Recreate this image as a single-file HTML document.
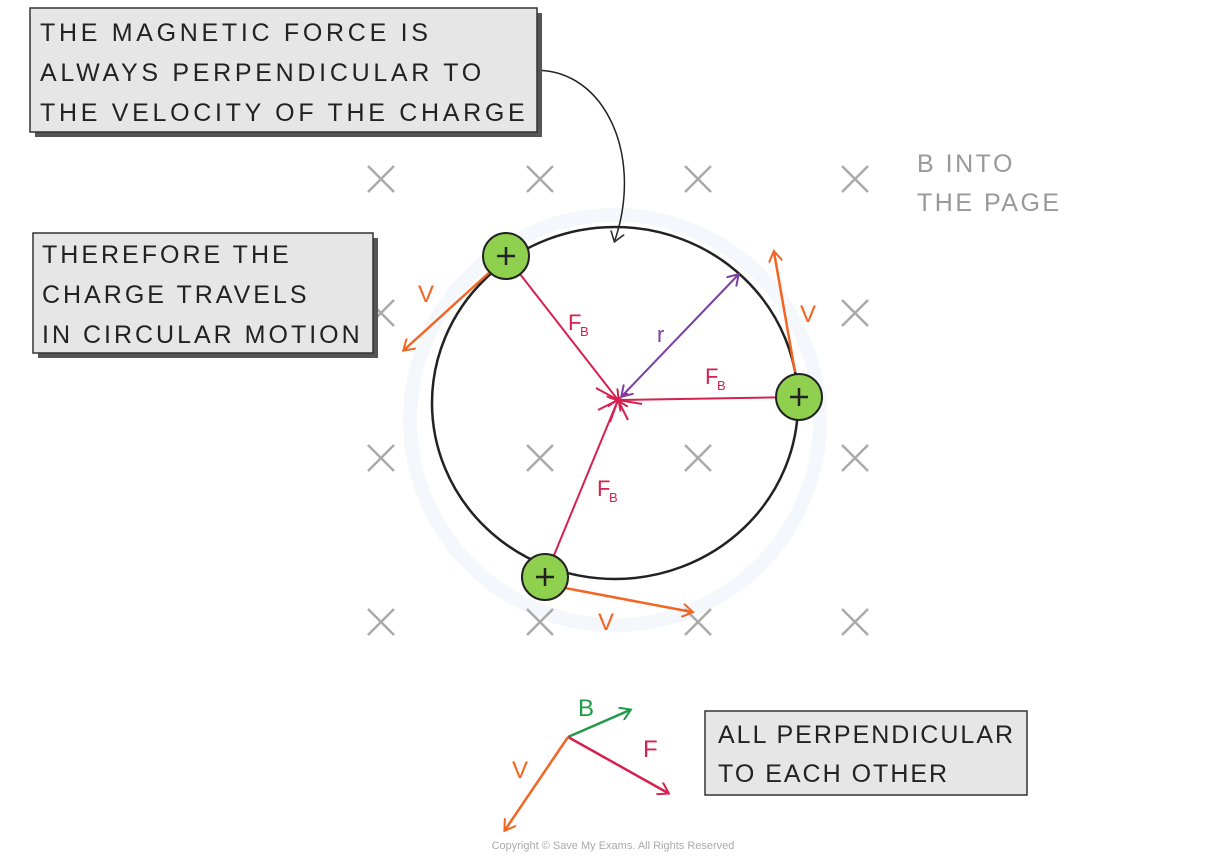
<!DOCTYPE html>
<html><head><meta charset="utf-8"><style>
html,body{margin:0;padding:0;background:#fff;}
body{width:1226px;height:859px;position:relative;overflow:hidden;font-family:"Liberation Sans",sans-serif;}
svg{position:absolute;left:0;top:0;}
</style></head><body>
<svg width="1226" height="859" viewBox="0 0 1226 859">
<defs>
<marker id="ao" markerWidth="14" markerHeight="14" refX="10" refY="7" orient="auto" markerUnits="userSpaceOnUse"><path d="M0,0 L11,7 L0,14" fill="none" stroke="#f26522" stroke-width="2"/></marker>
<marker id="ar" markerWidth="14" markerHeight="14" refX="10" refY="7" orient="auto" markerUnits="userSpaceOnUse"><path d="M0,0 L11,7 L0,14" fill="none" stroke="#d6204f" stroke-width="2"/></marker>
<marker id="ag" markerWidth="14" markerHeight="14" refX="10" refY="7" orient="auto" markerUnits="userSpaceOnUse"><path d="M0,0 L11,7 L0,14" fill="none" stroke="#1f9a48" stroke-width="2"/></marker>
<marker id="ap" markerWidth="14" markerHeight="14" refX="10" refY="7" orient="auto-start-reverse" markerUnits="userSpaceOnUse"><path d="M0,0 L11,7 L0,14" fill="none" stroke="#7a3fa0" stroke-width="2"/></marker>
<marker id="ak" markerWidth="16" markerHeight="16" refX="8" refY="8" orient="auto" markerUnits="userSpaceOnUse"><path d="M0,1 L10,8 L0,15" fill="none" stroke="#222" stroke-width="1.5"/></marker>
</defs>
<circle cx="615" cy="420" r="205" fill="none" stroke="#f4f7fb" stroke-width="14"/>
<g stroke="#aaa" stroke-width="2.5" fill="none">
<path d="M368,166 l26,26 M394,166 l-26,26"/>
<path d="M527,166 l26,26 M553,166 l-26,26"/>
<path d="M685,166 l26,26 M711,166 l-26,26"/>
<path d="M842,166 l26,26 M868,166 l-26,26"/>
<path d="M368,300 l26,26 M394,300 l-26,26"/>
<path d="M842,300 l26,26 M868,300 l-26,26"/>
<path d="M368,445 l26,26 M394,445 l-26,26"/>
<path d="M527,445 l26,26 M553,445 l-26,26"/>
<path d="M685,445 l26,26 M711,445 l-26,26"/>
<path d="M842,445 l26,26 M868,445 l-26,26"/>
<path d="M368,609 l26,26 M394,609 l-26,26"/>
<path d="M527,609 l26,26 M553,609 l-26,26"/>
<path d="M685,609 l26,26 M711,609 l-26,26"/>
<path d="M842,609 l26,26 M868,609 l-26,26"/>
</g>
<text x="917" y="172" font-size="25" fill="#999" letter-spacing="2.5">B INTO</text>
<text x="917" y="211" font-size="25" fill="#999" letter-spacing="2.5">THE  PAGE</text>
<ellipse cx="615" cy="403" rx="183" ry="176" fill="none" stroke="#222" stroke-width="2.5"/>
<g stroke="#d6204f" stroke-width="2" fill="none">
<line x1="506" y1="256" x2="618" y2="400" marker-end="url(#ar)"/>
<line x1="799" y1="397" x2="618" y2="400" marker-end="url(#ar)"/>
<line x1="545" y1="577" x2="618" y2="400" marker-end="url(#ar)"/>
<path d="M618,400 l-22,-12 M618,400 l-20,10 M618,400 l-8,22 M618,400 l10,20 M618,400 l24,4"/>
</g>
<line x1="622" y1="396" x2="738" y2="275" stroke="#7a3fa0" stroke-width="2" marker-start="url(#ap)" marker-end="url(#ap)"/>
<g fill="#d6204f" font-size="22">
<text x="568" y="330">F</text><text x="580" y="336" font-size="13">B</text>
<text x="705" y="384">F</text><text x="717" y="390" font-size="13">B</text>
<text x="597" y="496">F</text><text x="609" y="502" font-size="13">B</text>
</g>
<text x="657" y="342" fill="#7a3fa0" font-size="22">r</text>
<g stroke="#f26522" stroke-width="2.5" fill="none">
<line x1="492" y1="270" x2="404" y2="350" marker-end="url(#ao)"/>
<line x1="795" y1="372" x2="774" y2="252" marker-end="url(#ao)"/>
<line x1="565" y1="588" x2="692" y2="612" marker-end="url(#ao)"/>
</g>
<g fill="#f26522" font-size="24">
<text x="418" y="302">V</text>
<text x="800" y="322">V</text>
<text x="598" y="630">V</text>
</g>
<g fill="#8fd14f" stroke="#222" stroke-width="2">
<circle cx="506" cy="256" r="23"/><circle cx="799" cy="397" r="23"/><circle cx="545" cy="577" r="23"/>
</g>
<g stroke="#222" stroke-width="2.5">
<path d="M497,256 h18 M506,247 v18"/><path d="M790,397 h18 M799,388 v18"/><path d="M536,577 h18 M545,568 v18"/>
</g>
<path d="M527,71 C600,62 645,150 615,240" fill="none" stroke="#222" stroke-width="1.5" marker-end="url(#ak)"/>
<circle cx="527" cy="71" r="3" fill="#fff" stroke="#222" stroke-width="1.5"/>
<rect x="35" y="13" width="507" height="124" fill="#555"/>
<rect x="30" y="8" width="507" height="124" fill="#e6e6e6" stroke="#333" stroke-width="1.5"/>
<g font-size="25" fill="#222" letter-spacing="3.7">
<text x="40" y="41">THE  MAGNETIC  FORCE  IS</text>
<text x="40" y="81">ALWAYS  PERPENDICULAR  TO</text>
<text x="40" y="121">THE  VELOCITY  OF  THE  CHARGE</text>
</g>
<rect x="38" y="238" width="340" height="120" fill="#555"/>
<rect x="33" y="233" width="340" height="120" fill="#e6e6e6" stroke="#333" stroke-width="1.5"/>
<g font-size="25" fill="#222" letter-spacing="3">
<text x="42" y="263">THEREFORE  THE</text>
<text x="42" y="303">CHARGE  TRAVELS</text>
<text x="42" y="343">IN  CIRCULAR  MOTION</text>
</g>
<rect x="705" y="711" width="322" height="84" fill="#e6e6e6" stroke="#333" stroke-width="1.5"/>
<g font-size="25" fill="#222" letter-spacing="2">
<text x="718" y="743">ALL  PERPENDICULAR</text>
<text x="718" y="782">TO  EACH  OTHER</text>
</g>
<line x1="568" y1="737" x2="630" y2="710" stroke="#1f9a48" stroke-width="2.5" marker-end="url(#ag)"/>
<line x1="568" y1="737" x2="668" y2="793" stroke="#d6204f" stroke-width="2.5" marker-end="url(#ar)"/>
<line x1="568" y1="737" x2="505" y2="830" stroke="#f26522" stroke-width="2.5" marker-end="url(#ao)"/>
<text x="578" y="716" fill="#1f9a48" font-size="24">B</text>
<text x="643" y="757" fill="#d6204f" font-size="24">F</text>
<text x="512" y="778" fill="#f26522" font-size="24">V</text>
<text x="613" y="849" fill="#aaa" font-size="11" text-anchor="middle">Copyright © Save My Exams. All Rights Reserved</text>
</svg>
</body></html>
